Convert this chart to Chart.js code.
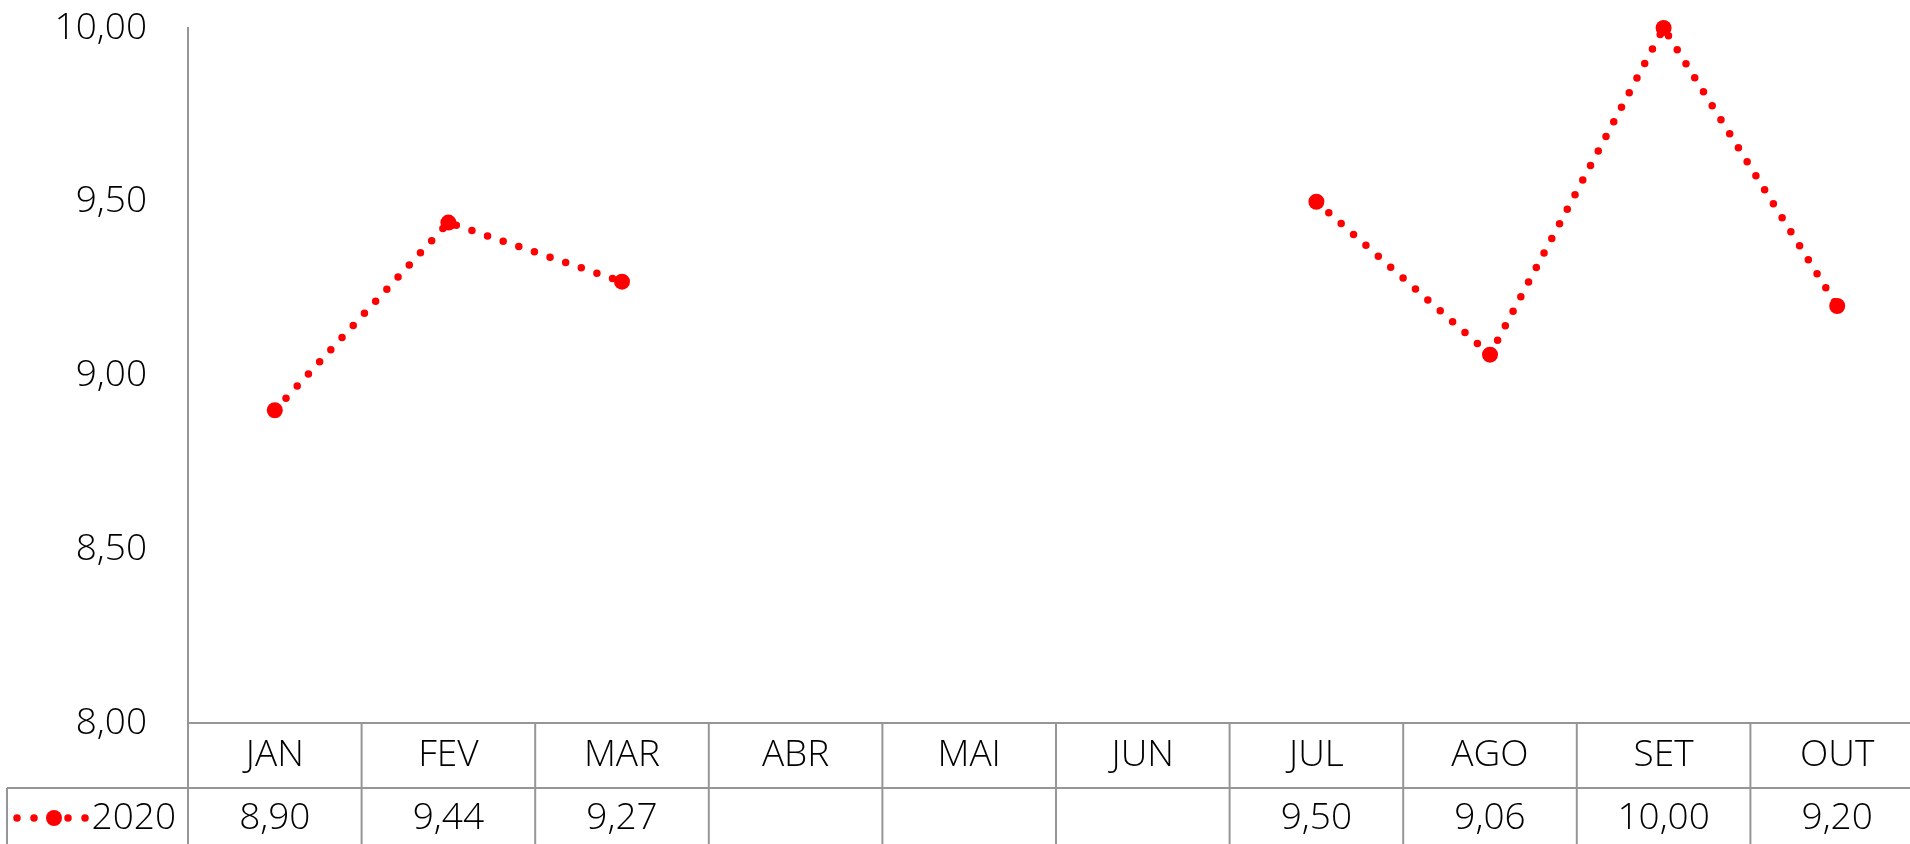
<!DOCTYPE html>
<html>
<head>
<meta charset="utf-8">
<script src="https://cdn.jsdelivr.net/npm/chart.js"></script>
<style>
  html, body { margin: 0; padding: 0; background: #fff; overflow: hidden; }
  #wrap { width: 1932px; height: 860px; }
</style>
</head>
<body>
<div id="wrap"><canvas id="myChart"></canvas></div>
<script>
var months = ["JAN", "FEV", "MAR", "ABR", "MAI", "JUN", "JUL", "AGO", "SET", "OUT"];
var values2020 = [8.90, 9.44, 9.27, null, null, null, 9.50, 9.06, 10.00, 9.20];
var seriesName = "2020";
var yTicks = [8.00, 8.50, 9.00, 9.50, 10.00];

var FONT = "'Open Sans', 'Liberation Sans', sans-serif";
var RED = "#ff0000";
var GRAY = "#969696";

function fmt(v) {
  return v.toFixed(2).replace(".", ",");
}

// draws the data table under the plot (categories row + series row)
var dataTable = {
  id: "dataTable",
  afterDraw: function (chart) {
    var ctx = chart.ctx;
    var x = chart.scales.x;
    var area = chart.chartArea;
    var top = area.bottom;
    var rowH = 65;
    var half = (area.right - area.left) / months.length / 2;

    ctx.save();
    ctx.strokeStyle = GRAY;
    ctx.lineWidth = 2;
    ctx.beginPath();
    ctx.moveTo(area.left, top);
    ctx.lineTo(area.right, top);
    ctx.moveTo(7, top + rowH);
    ctx.lineTo(area.right, top + rowH);
    ctx.moveTo(7, top + rowH);
    ctx.lineTo(7, top + rowH * 2);
    ctx.moveTo(area.left, area.top);
    ctx.lineTo(area.left, top + rowH * 2);
    for (var i = 0; i < months.length; i++) {
      var r = x.getPixelForValue(i) + half;
      ctx.moveTo(r, top);
      ctx.lineTo(r, top + rowH * 2);
    }
    ctx.stroke();

    ctx.fillStyle = "#000";
    ctx.font = "300 37px " + FONT;
    ctx.textAlign = "center";
    ctx.textBaseline = "middle";
    for (var j = 0; j < months.length; j++) {
      var cx = x.getPixelForValue(j);
      ctx.fillText(months[j], cx, top + 32);
      if (values2020[j] !== null) {
        ctx.fillText(fmt(values2020[j]), cx, top + rowH + 30);
      }
    }

    // legend key
    var ly = top + rowH + 30;
    ctx.textAlign = "right";
    ctx.fillText(seriesName, area.left - 12, ly);
    ctx.strokeStyle = RED;
    ctx.lineWidth = 7.5;
    ctx.lineCap = "round";
    ctx.setLineDash([0, 17]);
    ctx.beginPath();
    ctx.moveTo(17, ly);
    ctx.lineTo(90, ly);
    ctx.stroke();
    ctx.setLineDash([]);
    ctx.fillStyle = RED;
    ctx.beginPath();
    ctx.arc(54, ly, 8, 0, Math.PI * 2);
    ctx.fill();
    ctx.restore();
  }
};

var ctx = document.getElementById("myChart").getContext("2d");
var myChart = new Chart(ctx, {
  type: "line",
  data: {
    labels: months,
    datasets: [{
      label: seriesName,
      data: values2020,
      borderColor: RED,
      backgroundColor: RED,
      borderWidth: 7.5,
      borderDash: [0, 16.5],
      borderCapStyle: "round",
      pointRadius: 8,
      pointHoverRadius: 8,
      pointBorderWidth: 0,
      pointBackgroundColor: RED,
      fill: false,
      spanGaps: false,
      tension: 0,
      clip: false
    }]
  },
  options: {
    responsive: true,
    maintainAspectRatio: false,
    animation: false,
    layout: {
      padding: { top: 28, right: 1, bottom: 137, left: 0 }
    },
    plugins: {
      legend: { display: false },
      tooltip: { enabled: false }
    },
    scales: {
      x: {
        display: false,
        offset: true
      },
      y: {
        min: 8,
        max: 10,
        afterFit: function (scale) { scale.width = 188; },
        afterBuildTicks: function (scale) {
          scale.ticks = yTicks.map(function (v) { return { value: v }; });
        },
        grid: {
          display: true,
          drawOnChartArea: false,
          drawTicks: true,
          tickLength: 37,
          tickColor: "rgba(0,0,0,0)",
          color: "rgba(0,0,0,0)"
        },
        border: { display: true, color: GRAY, width: 2 },
        ticks: {
          padding: 4,
          color: "#000",
          font: { family: FONT, size: 37, weight: 300 },
          callback: function (v) { return fmt(v); }
        }
      }
    }
  },
  plugins: [dataTable]
});
</script>
</body>
</html>
